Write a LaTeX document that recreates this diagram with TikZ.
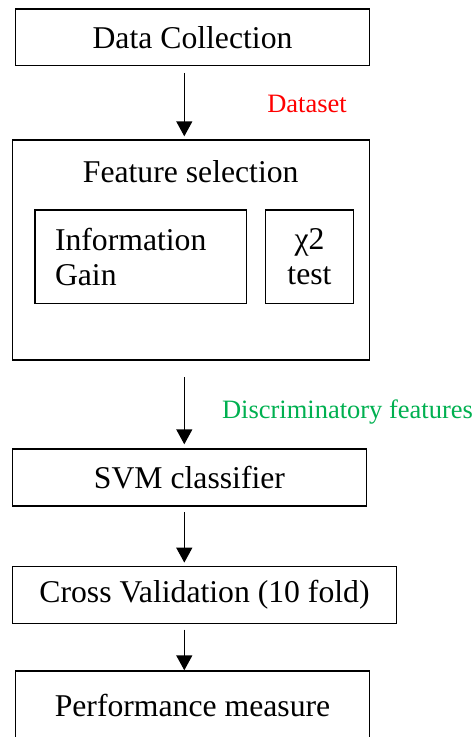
\documentclass[tikz,border=0pt]{standalone}
\usepackage{fontspec}
\setmainfont{Liberation Serif}
\usetikzlibrary{arrows.meta}
\definecolor{lblred}{RGB}{255,0,0}
\definecolor{lblgreen}{RGB}{0,176,80}
\tikzset{
  box/.style={draw=black, line width=1.4pt, inner sep=0pt, font=\fontsize{31.7}{35}\selectfont},
  lbl/.style={inner sep=0pt, font=\fontsize{26.5}{30}\selectfont},
  arr/.style={line width=1.4pt, -{Triangle[width=16pt,length=15pt]}}
}
\begin{document}
\begin{tikzpicture}[x=1pt,y=-1pt]
\useasboundingbox (0,0) rectangle (476,737);
\coordinate (col) at (184.3,0);
% boxes
\node[box, minimum width=353.6pt, minimum height=56.3pt] (dc) at (192.5,37.2) {Data Collection};
\node[box, minimum width=357.4pt, minimum height=220pt] (fs) at (191,250) {};
\node[inner sep=0pt, font=\fontsize{31.7}{35}\selectfont] (fst) at (190.7,171.7) {Feature selection};
\node[box, minimum width=211.7pt, minimum height=93.7pt, text width=171.7pt, align=left, inner xsep=20pt] (ig) at (140.85,256.85) {Information\\Gain};
\node[box, minimum width=87.6pt, minimum height=93.7pt, align=center] (chi) at (309.5,256.85) {χ2\\test};
\node[box, minimum width=354.4pt, minimum height=57pt] (svm) at (189.5,477.5) {SVM classifier};
\node[box, minimum width=384.4pt, minimum height=56.6pt] (cv) at (204.5,595) {Cross Validation (10 fold)};
\node[box, minimum width=353.6pt, minimum height=68pt] (pm) at (192.5,705) {Performance measure};
% labels
\node[lbl, text=lblred] (ds) at (307,104) {Dataset};
\node[lbl, text=lblgreen] (df) at (347.5,411.7) {Discriminatory features};
% arrows
\draw[arr] ([yshift=-6.7pt]dc.south -| col) -- ([yshift=3pt]fs.north -| col);
\draw[arr] ([yshift=-16.7pt]fs.south -| col) -- ([yshift=4pt]svm.north -| col);
\draw[arr] ([yshift=-5.7pt]svm.south -| col) -- ([yshift=3.4pt]cv.north -| col);
\draw[arr] ([yshift=-5.7pt]cv.south -| col) -- (pm.north -| col);
\end{tikzpicture}
\end{document}
